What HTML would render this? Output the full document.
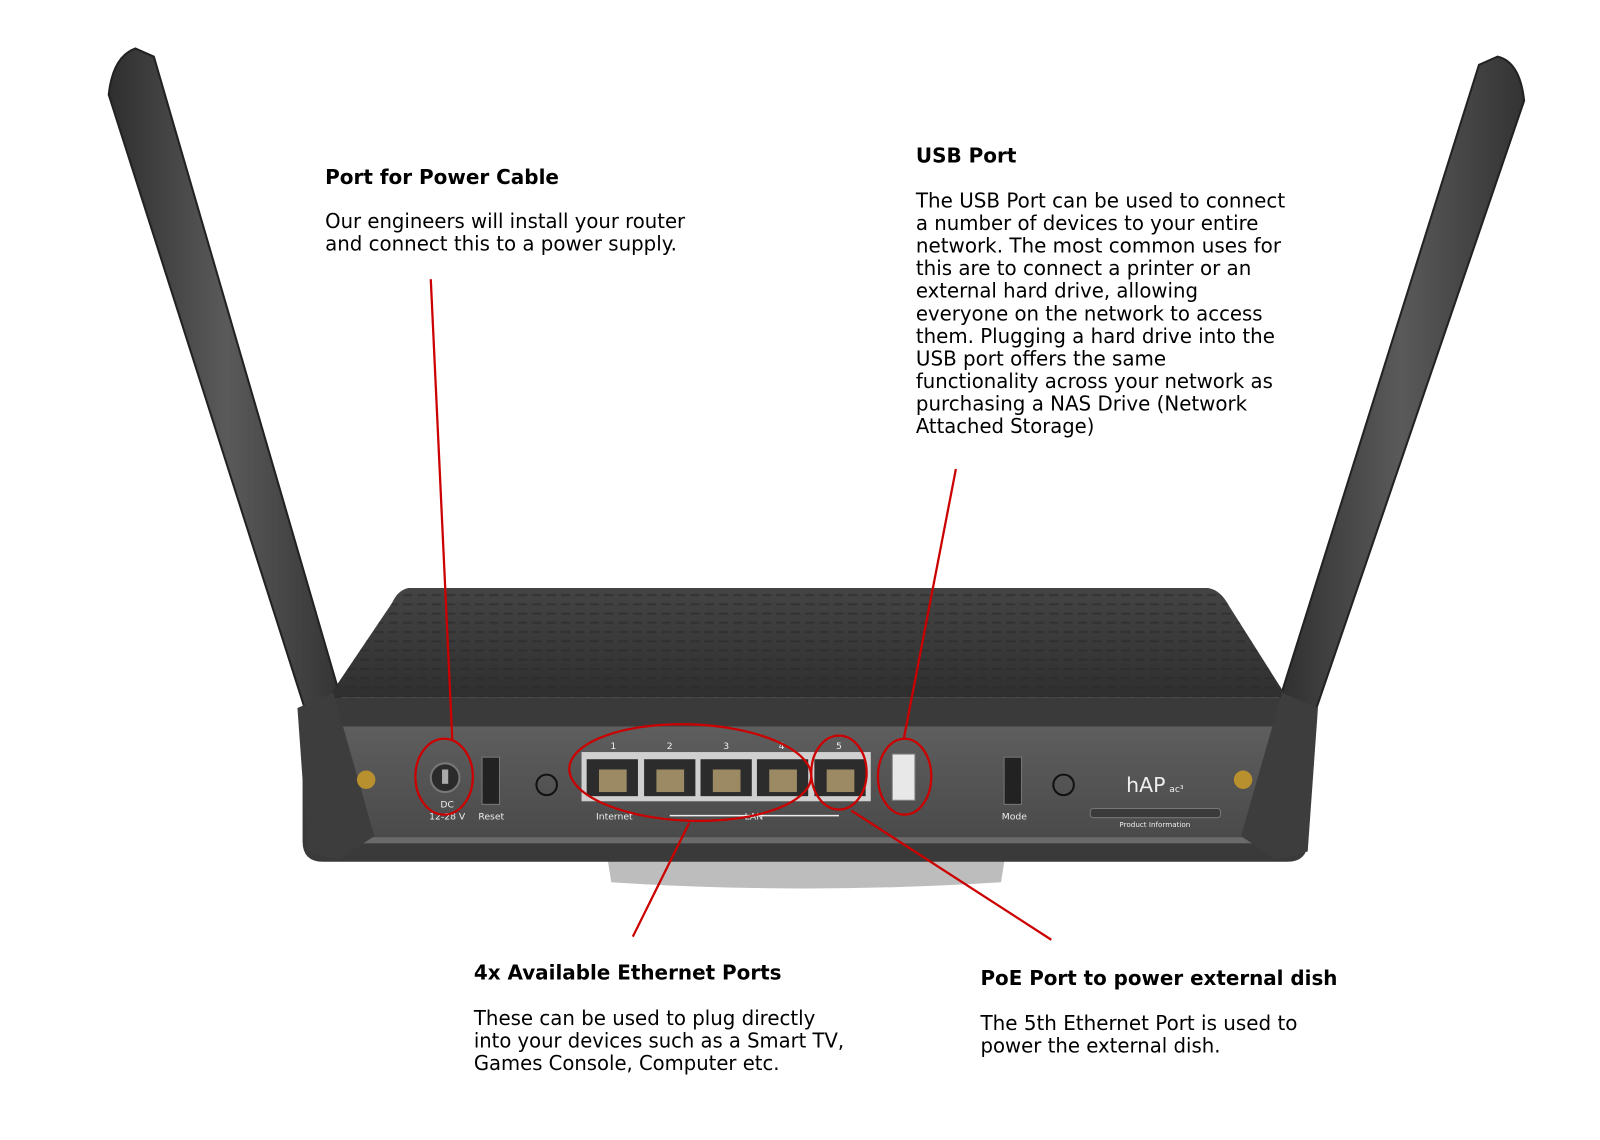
<!DOCTYPE html>
<html><head><meta charset="utf-8"><style>
html,body{margin:0;padding:0;background:#fff;width:1600px;height:1140px;overflow:hidden}
svg{display:block}
text{font-family:"DejaVu Sans","Liberation Sans",sans-serif;fill:#000}
.h{font-weight:bold;font-size:20px}
.b{font-size:20px}
</style></head><body>
<svg width="1600" height="1140" viewBox="0 0 1560 1111" xmlns="http://www.w3.org/2000/svg">
<defs>
<linearGradient id="ant" x1="0" x2="1" y1="0" y2="0">
<stop offset="0" stop-color="#2e2e2e"/><stop offset="0.5" stop-color="#5a5a5a"/><stop offset="1" stop-color="#333"/>
</linearGradient>
<linearGradient id="top" x1="0" x2="0" y1="0" y2="1">
<stop offset="0" stop-color="#444"/><stop offset="1" stop-color="#2f2f2f"/>
</linearGradient>
<linearGradient id="front" x1="0" x2="0" y1="0" y2="1">
<stop offset="0" stop-color="#5e5e5e"/><stop offset="1" stop-color="#4a4a4a"/>
</linearGradient>
<pattern id="tex" width="14" height="9" patternUnits="userSpaceOnUse">
<rect width="14" height="9" fill="none"/><rect x="1" y="3" width="9" height="2" fill="#2a2a2a" opacity="0.6"/>
</pattern>
</defs>
<!-- stand -->
<path d="M592,835 L980,835 L976,860 Q785,872 596,860 Z" fill="#bdbdbd"/>
<!-- antennas -->
<path d="M106,92 Q110,55 132,47 L150,55 L335,690 L305,715 Z" fill="url(#ant)" stroke="#222" stroke-width="2"/>
<path d="M1486,98 Q1482,60 1460,55 L1442,63 L1245,690 L1275,715 Z" fill="url(#ant)" stroke="#222" stroke-width="2"/>
<!-- body top -->
<path d="M398,573 L1178,573 Q1190,575 1198,590 L1255,680 L320,680 L382,588 Q388,575 398,573 Z" fill="url(#top)"/>
<path d="M398,573 L1178,573 Q1190,575 1198,590 L1255,680 L320,680 L382,588 Q388,575 398,573 Z" fill="url(#tex)"/>
<!-- body front -->
<path d="M318,680 L1258,680 L1275,700 L1275,820 Q1275,840 1255,840 L315,840 Q295,840 295,820 L295,700 Z" fill="#3a3a3a"/>
<rect x="332" y="708" width="910" height="108" fill="url(#front)"/>
<rect x="332" y="816" width="910" height="6" fill="#6a6a6a"/>
<!-- antenna bases -->
<path d="M290,690 L325,675 L365,815 L330,838 L300,830 Z" fill="#3d3d3d"/>
<path d="M1285,690 L1250,675 L1210,815 L1245,838 L1275,830 Z" fill="#3d3d3d"/>
<circle cx="357" cy="760" r="9" fill="#b8902e"/>
<circle cx="1212" cy="760" r="9" fill="#b8902e"/>
<!-- DC jack -->
<circle cx="434" cy="758" r="14" fill="#2b2b2b" stroke="#777" stroke-width="2"/>
<rect x="431" y="750" width="6" height="14" fill="#aaa"/>
<text x="436" y="787" font-size="9" fill="#eee" style="fill:#eee" text-anchor="middle">DC</text>
<text x="436" y="799" font-size="9" style="fill:#eee" text-anchor="middle">12-28 V</text>
<rect x="470" y="738" width="17" height="46" fill="#222" stroke="#777"/>
<text x="479" y="799" font-size="9" style="fill:#eee" text-anchor="middle">Reset</text>
<circle cx="533" cy="765" r="10" fill="none" stroke="#111" stroke-width="2"/>
<!-- ports -->
<rect x="567" y="733" width="282" height="48" fill="#d0d0d0"/>
<g fill="#2c2c2c">
<rect x="572" y="740" width="50" height="36"/><rect x="628" y="740" width="50" height="36"/>
<rect x="683" y="740" width="50" height="36"/><rect x="738" y="740" width="50" height="36"/>
<rect x="794" y="740" width="50" height="36"/>
</g>
<g fill="#9c8a64">
<rect x="584" y="750" width="27" height="22"/><rect x="640" y="750" width="27" height="22"/>
<rect x="695" y="750" width="27" height="22"/><rect x="750" y="750" width="27" height="22"/>
<rect x="806" y="750" width="27" height="22"/>
</g>
<g font-size="9" style="fill:#eee" text-anchor="middle">
<text x="598" y="730" style="fill:#eee">1</text><text x="653" y="730" style="fill:#eee">2</text>
<text x="708" y="730" style="fill:#eee">3</text><text x="762" y="730" style="fill:#eee">4</text>
<text x="818" y="730" style="fill:#eee">5</text>
<text x="599" y="799" style="fill:#eee">Internet</text><text x="735" y="799" style="fill:#eee">LAN</text>
<text x="989" y="799" style="fill:#eee">Mode</text>
</g>
<line x1="653" y1="795" x2="818" y2="795" stroke="#eee" stroke-width="1.5"/>
<rect x="870" y="735" width="22" height="45" fill="#e8e8e8" stroke="#888"/>
<rect x="979" y="738" width="17" height="46" fill="#222" stroke="#777"/>
<circle cx="1037" cy="765" r="10" fill="none" stroke="#111" stroke-width="2"/>
<text x="1098" y="772" font-size="20" style="fill:#eee">hAP</text>
<text x="1140" y="772" font-size="9" style="fill:#eee">ac³</text>
<rect x="1063" y="788" width="127" height="9" rx="3" fill="#3a3a3a" stroke="#777"/>
<text x="1126" y="806" font-size="7" style="fill:#eee" text-anchor="middle">Product Information</text>
<!-- red annotations -->
<g fill="none" stroke="#c00" stroke-width="2.2">
<line x1="420" y1="272" x2="441" y2="721"/>
<line x1="932" y1="457" x2="881" y2="721"/>
<line x1="617" y1="913" x2="672" y2="802"/>
<line x1="1025" y1="916" x2="830" y2="790"/>
<ellipse cx="433" cy="757" rx="28" ry="37"/>
<ellipse cx="673" cy="753" rx="118" ry="47" transform="rotate(2 673 753)"/>
<ellipse cx="818" cy="753" rx="27" ry="36"/>
<ellipse cx="882" cy="757" rx="26" ry="37"/>
</g>
<!-- text -->
<text class="h" x="317" y="179" textLength="228" lengthAdjust="spacingAndGlyphs">Port for Power Cable</text>
<text class="b" x="317" y="222" textLength="351" lengthAdjust="spacingAndGlyphs">Our engineers will install your router</text>
<text class="b" x="317" y="244" textLength="343" lengthAdjust="spacingAndGlyphs">and connect this to a power supply.</text>

<text class="h" x="893" y="158" textLength="98" lengthAdjust="spacingAndGlyphs">USB Port</text>
<text class="b" x="893" y="202" textLength="360" lengthAdjust="spacingAndGlyphs">The USB Port can be used to connect</text>
<text class="b" x="893" y="224" textLength="334" lengthAdjust="spacingAndGlyphs">a number of devices to your entire</text>
<text class="b" x="893" y="246" textLength="356" lengthAdjust="spacingAndGlyphs">network. The most common uses for</text>
<text class="b" x="893" y="268" textLength="327" lengthAdjust="spacingAndGlyphs">this are to connect a printer or an</text>
<text class="b" x="893" y="290" textLength="275" lengthAdjust="spacingAndGlyphs">external hard drive, allowing</text>
<text class="b" x="893" y="312" textLength="338" lengthAdjust="spacingAndGlyphs">everyone on the network to access</text>
<text class="b" x="893" y="334" textLength="350" lengthAdjust="spacingAndGlyphs">them. Plugging a hard drive into the</text>
<text class="b" x="893" y="356" textLength="244" lengthAdjust="spacingAndGlyphs">USB port offers the same</text>
<text class="b" x="893" y="378" textLength="348" lengthAdjust="spacingAndGlyphs">functionality across your network as</text>
<text class="b" x="893" y="400" textLength="323" lengthAdjust="spacingAndGlyphs">purchasing a NAS Drive (Network</text>
<text class="b" x="893" y="422" textLength="174" lengthAdjust="spacingAndGlyphs">Attached Storage)</text>

<text class="h" x="462" y="955" textLength="300" lengthAdjust="spacingAndGlyphs">4x Available Ethernet Ports</text>
<text class="b" x="462" y="999" textLength="333" lengthAdjust="spacingAndGlyphs">These can be used to plug directly</text>
<text class="b" x="462" y="1021" textLength="361" lengthAdjust="spacingAndGlyphs">into your devices such as a Smart TV,</text>
<text class="b" x="462" y="1043" textLength="298" lengthAdjust="spacingAndGlyphs">Games Console, Computer etc.</text>

<text class="h" x="956" y="960" textLength="348" lengthAdjust="spacingAndGlyphs">PoE Port to power external dish</text>
<text class="b" x="956" y="1004" textLength="309" lengthAdjust="spacingAndGlyphs">The 5th Ethernet Port is used to</text>
<text class="b" x="956" y="1026" textLength="234" lengthAdjust="spacingAndGlyphs">power the external dish.</text>
</svg>
</body></html>
